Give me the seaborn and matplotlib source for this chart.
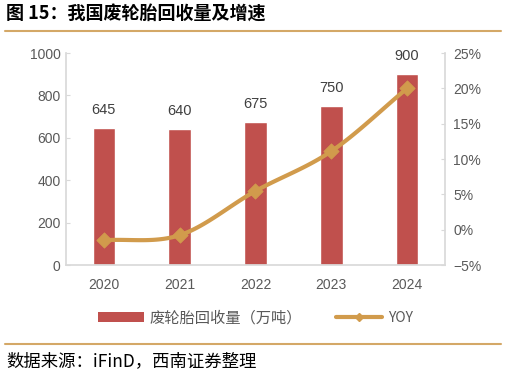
import numpy as np
import pandas as pd
import seaborn as sns
import matplotlib
matplotlib.use("Agg")
import matplotlib.pyplot as plt
from matplotlib.lines import Line2D
from matplotlib.patches import Patch

years = ["2020", "2021", "2022", "2023", "2024"]
volume = [645, 640, 675, 750, 900]
yoy = [-1.5, -0.78, 5.47, 11.1, 20.0]

BAR_C = "#C0504D"
LINE_C = "#D19B4C"
RULE_C = "#D4A867"
TXT_C = "#595959"
AX_C = "#D9D9D9"

sns.set_theme(style="white")
plt.rcParams["font.family"] = ["Liberation Sans", "Noto Sans CJK SC", "DejaVu Sans"]
CJK = ["Noto Sans CJK SC", "DejaVu Sans"]


def _smooth(xs, ys, n=30):
    # catmull-rom through the points, like excel's smoothed line
    xs = np.asarray(xs, float)
    ys = np.asarray(ys, float)
    px = np.concatenate([[2 * xs[0] - xs[1]], xs, [2 * xs[-1] - xs[-2]]])
    py = np.concatenate([[2 * ys[0] - ys[1]], ys, [2 * ys[-1] - ys[-2]]])
    outx, outy = [], []
    for i in range(1, len(px) - 2):
        t = np.linspace(0, 1, n)
        for p, out in ((px, outx), (py, outy)):
            p0, p1, p2, p3 = p[i - 1], p[i], p[i + 1], p[i + 2]
            out.extend(
                0.5 * ((2 * p1) + (-p0 + p2) * t
                       + (2 * p0 - 5 * p1 + 4 * p2 - p3) * t ** 2
                       + (-p0 + 3 * p1 - 3 * p2 + p3) * t ** 3)
            )
    return outx, outy


df = pd.DataFrame({"year": years, "volume": volume, "yoy": yoy})

fig = plt.figure(figsize=(5.06, 3.76), dpi=100)
ax = fig.add_axes([0.1304, 0.2952, 0.749, 0.5638])
sns.barplot(data=df, x="year", y="volume", color=BAR_C, width=0.3,
            saturation=1, ax=ax)
ax.set_ylim(0, 1000)
ax.set_yticks(range(0, 1001, 200))
ax.set_xlim(-0.5, 4.5)
ax.set_xlabel("")
ax.set_ylabel("")
for i, v in enumerate(volume):
    ax.text(i, v + 85, str(v), ha="center", va="center", fontsize=10.5, color="#404040")

ax2 = ax.twinx()
sx, sy = _smooth(range(len(years)), yoy)
ax2.plot(sx, sy, color=LINE_C, lw=3, solid_capstyle="round", zorder=3)
sns.scatterplot(x=range(len(years)), y=yoy, marker="D", s=60, color=LINE_C,
                edgecolor=LINE_C, ax=ax2, zorder=4)
ax2.set_ylim(-5, 25)
ax2.set_yticks(range(-5, 26, 5))
ax2.set_yticklabels([f"{t}%" if t >= 0 else f"\u2212{-t}%" for t in range(-5, 26, 5)])

for a in (ax, ax2):
    for s in a.spines.values():
        s.set_visible(False)
    a.tick_params(colors=TXT_C, labelsize=10, length=3, width=0.8,
                  direction="in", color=AX_C)
ax.spines["left"].set_visible(True)
ax.spines["bottom"].set_visible(True)
ax.spines["left"].set_color(AX_C)
ax.spines["bottom"].set_color(AX_C)
ax2.spines["right"].set_visible(True)
ax2.spines["right"].set_color(AX_C)
ax.tick_params(axis="x", length=0, pad=9)
ax.set_xticks([0.5, 1.5, 2.5, 3.5], minor=True)
ax.tick_params(axis="x", which="minor", length=4, direction="in", color=AX_C)
ax.tick_params(axis="y", pad=4)
ax2.tick_params(axis="y", pad=6)

handles = [
    Patch(facecolor=BAR_C, edgecolor="none"),
    Line2D([], [], color=LINE_C, lw=3, marker="D", markersize=4),
]
leg = fig.legend(handles, ["废轮胎回收量（万吨）", "YOY"], loc="center",
                 bbox_to_anchor=(0.505, 0.155), ncol=2, frameon=False,
                 fontsize=11, handlelength=3.0, handleheight=0.6,
                 columnspacing=2.2, handletextpad=0.4)
for t in leg.get_texts():
    t.set_color(TXT_C)
    t.set_fontfamily(CJK)
leg.get_texts()[1].set_fontsize(10)

fig.text(0.012, 0.965, "图 15：我国废轮胎回收量及增速", fontsize=13,
         fontweight="bold", family=CJK, va="center", color="#000000")
fig.add_artist(Line2D([0.01, 0.99], [0.917, 0.917], color=RULE_C, lw=1.5))
fig.add_artist(Line2D([0.01, 0.99], [0.085, 0.085], color=RULE_C, lw=1.5))
fig.text(0.012, 0.04, "数据来源：iFinD，西南证券整理", fontsize=12.5,
         style="italic", family=CJK, va="center", color="#000000")

fig.savefig("out.png", dpi=100)
